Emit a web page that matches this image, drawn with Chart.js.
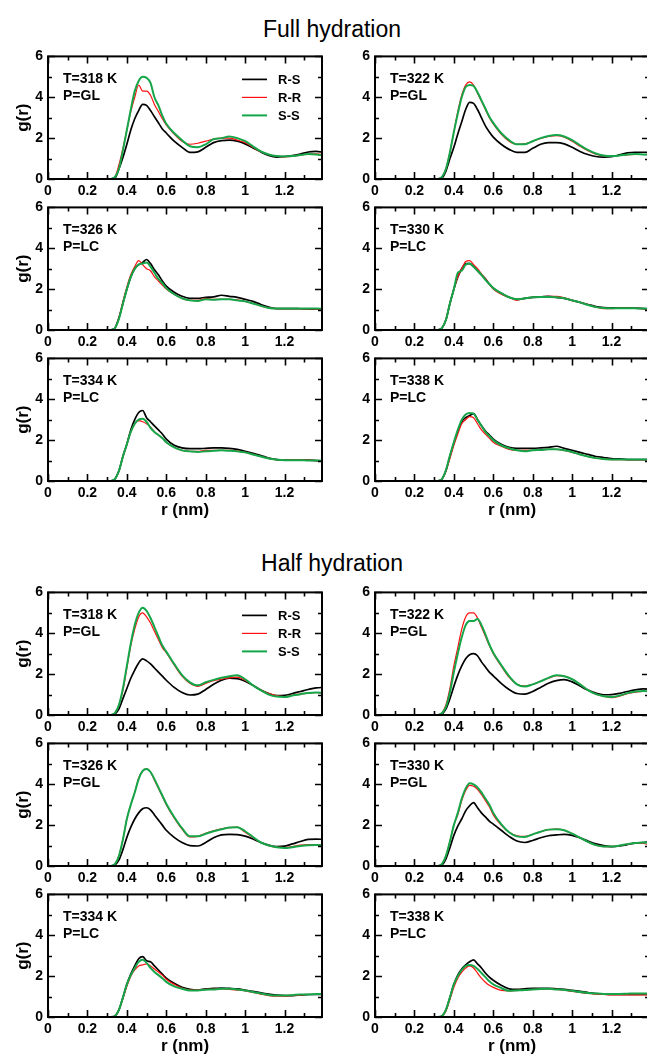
<!DOCTYPE html>
<html>
<head>
<meta charset="utf-8">
<script src="https://cdn.jsdelivr.net/npm/chart.js@4.4.1/dist/chart.umd.min.js"></script>
<style>
	html, body { margin: 0; padding: 0; background: #fff; }
	body { position: relative; width: 647px; height: 1054px; overflow: hidden; font-family: "Liberation Sans", Arial, sans-serif; }
	canvas { position: absolute; }
	.group-title { position: absolute; left: 0; width: 664px; text-align: center; font-size: 23px; color: #000; }
</style>
</head>
<body>
<div class="group-title" style="top:16px">Full hydration</div>
<div class="group-title" style="top:550px">Half hydration</div>
<script>
// r (nm) grid shared by every curve
const rValues = [0.32,0.34,0.36,0.38,0.40,0.42,0.44,0.46,0.48,0.50,0.52,0.54,0.56,0.58,0.60,0.64,0.68,0.72,0.76,0.80,0.84,0.88,0.92,0.96,1.00,1.04,1.08,1.12,1.16,1.20,1.24,1.28,1.32,1.36,1.40];

const seriesNames = ['R-S', 'R-R', 'S-S'];
const temps = ['318', '322', '326', '330', '334', '338'];
const fullPhases = ['GL', 'GL', 'LC', 'LC', 'LC', 'LC'];
const halfPhases = ['GL', 'GL', 'GL', 'GL', 'LC', 'LC'];

const xTickValues = [0, 0.2, 0.4, 0.6, 0.8, 1.0, 1.2];
const xTickLabels = ['0', '0.2', '0.4', '0.6', '0.8', '1', '1.2'];
const xMinorValues = [0.1, 0.3, 0.5, 0.7, 0.9, 1.1, 1.3];
const yTickValues = [0, 2, 4, 6];
const yTickLabels = ['0', '2', '4', '6'];
const yMinorValues = [1, 3, 5];

// Full hydration g(r)
const full318RS = [0,0.05,0.5,1.05,1.7,2.4,2.95,3.35,3.65,3.6,3.35,3.05,2.75,2.45,2.25,1.85,1.55,1.3,1.33,1.55,1.78,1.88,1.9,1.85,1.72,1.52,1.32,1.15,1.07,1.1,1.15,1.22,1.32,1.35,1.3];
const full318RR = [0,0.1,0.7,1.5,2.4,3.3,4.0,4.6,4.3,4.3,4.1,3.65,3.3,2.95,2.65,2.2,1.85,1.7,1.75,1.85,1.95,2.0,2.0,1.9,1.78,1.55,1.33,1.2,1.12,1.08,1.1,1.17,1.22,1.23,1.2];
const full318SS = [0,0.1,0.5,1.4,2.4,3.4,4.3,4.8,5.0,4.95,4.7,4.0,3.6,3.1,2.7,2.25,1.9,1.6,1.55,1.7,1.95,2.0,2.08,2.0,1.85,1.6,1.35,1.2,1.12,1.1,1.12,1.18,1.22,1.2,1.15];

const full322RS = [0,0.05,0.4,1.0,1.55,2.2,2.8,3.4,3.75,3.7,3.4,3.0,2.6,2.3,2.05,1.7,1.45,1.3,1.3,1.5,1.7,1.78,1.78,1.72,1.55,1.35,1.2,1.1,1.07,1.09,1.18,1.28,1.31,1.31,1.3];
const full322RR = [0,0.1,0.5,1.3,2.3,3.3,4.1,4.6,4.75,4.6,4.2,3.8,3.4,3.0,2.7,2.2,1.85,1.7,1.72,1.85,1.98,2.08,2.12,2.05,1.85,1.6,1.38,1.22,1.14,1.12,1.15,1.18,1.2,1.2,1.2];
const full322SS = [0,0.1,0.5,1.3,2.3,3.2,4.0,4.5,4.6,4.55,4.25,3.85,3.45,3.05,2.75,2.25,1.9,1.7,1.7,1.85,2.0,2.1,2.15,2.08,1.9,1.65,1.42,1.25,1.15,1.12,1.15,1.2,1.22,1.2,1.18];

const full326RS = [0,0.1,0.6,1.3,2.0,2.6,3.0,3.2,3.3,3.45,3.25,2.95,2.7,2.4,2.15,1.85,1.65,1.55,1.55,1.6,1.62,1.7,1.65,1.6,1.5,1.4,1.25,1.12,1.05,1.05,1.05,1.04,1.03,1.02,1.02];
const full326RR = [0,0.1,0.6,1.4,2.1,2.7,3.1,3.4,3.2,3.0,2.9,2.6,2.4,2.2,2.0,1.75,1.55,1.45,1.45,1.55,1.5,1.5,1.5,1.48,1.4,1.3,1.18,1.08,1.05,1.05,1.05,1.04,1.03,1.02,1.0];
const full326SS = [0,0.1,0.55,1.3,2.0,2.6,3.0,3.2,3.25,3.3,3.1,2.8,2.5,2.3,2.05,1.75,1.55,1.45,1.42,1.5,1.48,1.5,1.5,1.45,1.4,1.3,1.18,1.08,1.05,1.05,1.05,1.05,1.05,1.05,1.03];

const full330RS = [0,0.1,0.5,1.3,2.0,2.6,3.0,3.25,3.25,3.1,2.9,2.7,2.5,2.25,2.05,1.8,1.6,1.5,1.55,1.6,1.62,1.65,1.6,1.55,1.45,1.35,1.25,1.15,1.1,1.08,1.08,1.08,1.07,1.05,1.03];
const full330RR = [0,0.1,0.5,1.3,2.0,2.6,3.0,3.35,3.4,3.2,3.0,2.75,2.5,2.25,2.0,1.75,1.6,1.45,1.55,1.6,1.62,1.65,1.65,1.58,1.45,1.35,1.25,1.12,1.05,1.05,1.07,1.07,1.06,1.05,1.02];
const full330SS = [0,0.1,0.5,1.3,2.0,2.8,2.9,3.2,3.25,3.1,2.9,2.7,2.45,2.25,2.05,1.8,1.6,1.5,1.55,1.6,1.62,1.62,1.6,1.55,1.45,1.35,1.22,1.12,1.08,1.07,1.07,1.07,1.06,1.05,1.03];

const full334RS = [0,0.1,0.5,1.2,1.8,2.5,3.0,3.35,3.45,3.1,2.9,2.7,2.5,2.3,2.05,1.75,1.62,1.58,1.58,1.6,1.62,1.62,1.6,1.55,1.45,1.35,1.25,1.12,1.05,1.02,1.02,1.02,1.02,1.0,0.98];
const full334RR = [0,0.1,0.5,1.2,1.8,2.4,2.8,2.95,2.9,2.8,2.65,2.4,2.25,2.1,1.9,1.65,1.5,1.45,1.45,1.5,1.5,1.5,1.5,1.48,1.4,1.3,1.2,1.1,1.05,1.02,1.02,1.02,1.02,1.0,0.98];
const full334SS = [0,0.1,0.5,1.2,1.8,2.4,2.8,3.0,3.05,2.9,2.6,2.4,2.25,2.1,1.9,1.65,1.5,1.45,1.42,1.45,1.48,1.5,1.48,1.45,1.4,1.3,1.2,1.1,1.05,1.02,1.02,1.02,1.0,1.0,0.98];

const full338RS = [0,0.1,0.5,1.2,1.85,2.4,2.9,3.1,3.2,3.3,3.0,2.7,2.45,2.25,2.05,1.8,1.65,1.6,1.6,1.6,1.62,1.65,1.7,1.6,1.5,1.4,1.3,1.2,1.15,1.1,1.08,1.05,1.05,1.05,1.05];
const full338RR = [0,0.1,0.5,1.1,1.75,2.3,2.8,3.0,3.15,3.1,2.8,2.5,2.3,2.1,1.9,1.7,1.55,1.5,1.5,1.5,1.52,1.55,1.55,1.5,1.4,1.3,1.2,1.12,1.08,1.05,1.05,1.05,1.05,1.05,1.05];
const full338SS = [0,0.1,0.55,1.25,1.9,2.5,3.0,3.25,3.33,3.3,3.0,2.7,2.4,2.2,2.0,1.75,1.6,1.5,1.45,1.5,1.52,1.55,1.55,1.5,1.42,1.3,1.2,1.12,1.08,1.05,1.05,1.05,1.05,1.05,1.05];

// Half hydration g(r)
const half318RS = [0,0.05,0.3,0.8,1.3,1.8,2.2,2.55,2.75,2.65,2.5,2.3,2.1,1.9,1.7,1.35,1.1,0.98,1.02,1.25,1.5,1.7,1.8,1.78,1.65,1.45,1.22,1.05,0.95,0.96,1.05,1.15,1.25,1.33,1.35];
const half318RR = [0,0.1,0.5,1.2,2.3,3.4,4.2,4.8,5.0,4.8,4.5,4.1,3.7,3.3,3.05,2.45,1.9,1.55,1.4,1.55,1.68,1.75,1.82,1.85,1.7,1.45,1.22,1.05,0.95,0.9,0.98,1.03,1.07,1.1,1.05];
const half318SS = [0,0.1,0.5,1.3,2.4,3.5,4.4,5.0,5.25,5.1,4.75,4.3,3.85,3.4,3.1,2.5,1.95,1.6,1.45,1.6,1.72,1.82,1.9,1.95,1.75,1.45,1.2,1.0,0.9,0.88,0.95,1.02,1.08,1.1,1.08];

const half322RS = [0,0.05,0.3,0.8,1.4,1.95,2.4,2.75,2.95,3.0,2.9,2.6,2.35,2.1,1.92,1.55,1.25,1.05,1.02,1.15,1.35,1.55,1.68,1.73,1.62,1.42,1.22,1.07,0.99,1.0,1.06,1.15,1.23,1.28,1.25];
const half322RR = [0,0.1,0.5,1.3,2.4,3.3,4.2,4.8,5.0,5.0,4.75,4.3,3.85,3.4,3.0,2.4,1.85,1.5,1.42,1.5,1.65,1.8,1.92,1.9,1.75,1.5,1.22,1.02,0.92,0.85,0.92,1.05,1.12,1.15,1.15];
const half322SS = [0,0.1,0.4,1.1,2.1,3.0,3.8,4.4,4.6,4.6,4.7,4.4,3.95,3.45,3.05,2.45,1.9,1.5,1.4,1.5,1.65,1.82,1.95,1.9,1.75,1.5,1.22,1.02,0.92,0.88,0.95,1.07,1.15,1.18,1.15];

const half326RS = [0,0.05,0.3,0.8,1.4,1.9,2.3,2.6,2.8,2.85,2.75,2.5,2.25,2.0,1.75,1.4,1.15,1.0,0.98,1.15,1.38,1.52,1.55,1.54,1.46,1.32,1.15,1.02,0.95,0.97,1.08,1.2,1.3,1.32,1.3];
const half326RR = [0,0.1,0.5,1.3,2.3,3.0,3.6,4.3,4.65,4.75,4.6,4.2,3.8,3.4,3.0,2.35,1.8,1.42,1.45,1.6,1.72,1.82,1.88,1.9,1.65,1.4,1.15,1.0,0.92,0.9,0.95,1.02,1.05,1.05,1.0];
const half326SS = [0,0.1,0.5,1.3,2.3,3.0,3.6,4.25,4.65,4.75,4.6,4.25,3.85,3.45,3.05,2.4,1.85,1.45,1.45,1.58,1.7,1.8,1.88,1.9,1.7,1.42,1.15,1.0,0.92,0.88,0.92,0.98,1.02,1.03,1.0];

const half330RS = [0,0.05,0.35,0.9,1.5,1.95,2.3,2.7,2.95,3.1,2.85,2.6,2.4,2.2,2.05,1.75,1.45,1.22,1.15,1.25,1.38,1.48,1.52,1.55,1.5,1.38,1.22,1.08,1.0,0.95,0.98,1.05,1.12,1.15,1.2];
const half330RR = [0,0.1,0.5,1.2,2.0,2.5,3.2,3.7,3.95,3.9,3.75,3.5,3.2,2.9,2.5,2.0,1.65,1.48,1.45,1.55,1.68,1.78,1.8,1.75,1.58,1.38,1.18,1.02,0.95,0.95,1.0,1.07,1.12,1.1,1.02];
const half330SS = [0,0.1,0.5,1.2,2.0,2.6,3.3,3.8,4.05,4.0,3.85,3.6,3.3,3.0,2.6,2.05,1.65,1.45,1.42,1.55,1.68,1.78,1.8,1.75,1.58,1.38,1.18,1.02,0.95,0.95,1.0,1.07,1.12,1.15,1.12];

const half334RS = [0,0.05,0.35,0.95,1.6,2.1,2.5,2.85,2.95,2.75,2.7,2.5,2.3,2.1,1.9,1.65,1.45,1.35,1.32,1.38,1.4,1.42,1.4,1.38,1.32,1.25,1.18,1.12,1.07,1.05,1.05,1.07,1.1,1.1,1.1];
const half334RR = [0,0.05,0.35,0.9,1.5,2.0,2.3,2.5,2.55,2.6,2.5,2.35,2.2,2.05,1.85,1.6,1.42,1.33,1.32,1.35,1.37,1.38,1.35,1.32,1.28,1.2,1.12,1.05,1.02,1.02,1.05,1.07,1.1,1.1,1.12];
const half334SS = [0,0.05,0.35,0.95,1.6,2.05,2.4,2.7,2.8,2.65,2.4,2.2,2.05,1.9,1.72,1.5,1.38,1.3,1.3,1.33,1.35,1.38,1.38,1.35,1.3,1.22,1.15,1.08,1.05,1.05,1.07,1.1,1.1,1.12,1.12];

const half338RS = [0,0.05,0.35,0.95,1.6,2.05,2.35,2.55,2.7,2.8,2.6,2.4,2.15,1.95,1.8,1.55,1.38,1.35,1.38,1.4,1.4,1.4,1.38,1.35,1.3,1.25,1.2,1.15,1.12,1.1,1.1,1.1,1.1,1.1,1.1];
const half338RR = [0,0.05,0.3,0.85,1.45,1.9,2.2,2.4,2.5,2.4,2.15,1.9,1.7,1.55,1.45,1.3,1.28,1.3,1.32,1.35,1.37,1.38,1.35,1.32,1.25,1.2,1.15,1.12,1.1,1.08,1.08,1.08,1.08,1.08,1.08];
const half338SS = [0,0.05,0.35,0.95,1.6,2.0,2.3,2.5,2.55,2.5,2.35,2.15,1.95,1.75,1.6,1.42,1.28,1.3,1.32,1.35,1.37,1.38,1.35,1.32,1.28,1.22,1.18,1.15,1.13,1.13,1.13,1.14,1.15,1.15,1.15];

const fullSeries = [
	[full318RS, full318RR, full318SS],
	[full322RS, full322RR, full322SS],
	[full326RS, full326RR, full326SS],
	[full330RS, full330RR, full330SS],
	[full334RS, full334RR, full334SS],
	[full338RS, full338RR, full338SS],
];
const halfSeries = [
	[half318RS, half318RR, half318SS],
	[half322RS, half322RR, half322SS],
	[half326RS, half326RR, half326SS],
	[half330RS, half330RR, half330SS],
	[half334RS, half334RR, half334SS],
	[half338RS, half338RR, half338SS],
];

const FONT = '"Liberation Sans", Arial, Helvetica, sans-serif';
const lineStyles = [
	{ color: '#000000', width: 1.7, order: 2 },
	{ color: '#ff1010', width: 1.2, order: 1 },
	{ color: '#16a64a', width: 2.0, order: 0 },
];

// frame, inward ticks, T/P annotation and the small legend
const panelDecor = {
	id: 'panelDecor',
	afterDatasetsDraw(chart, args, opts) {
		const { ctx, chartArea: a, scales: { x, y } } = chart;
		ctx.save();
		ctx.strokeStyle = '#000';
		ctx.lineWidth = 1.6;
		ctx.beginPath();
		const xt = (vals, len) => vals.forEach((v) => {
			const px = Math.round(x.getPixelForValue(v)) + 0.5;
			ctx.moveTo(px, a.bottom); ctx.lineTo(px, a.bottom - len);
			ctx.moveTo(px, a.top); ctx.lineTo(px, a.top + len);
		});
		const yt = (vals, len) => vals.forEach((v) => {
			const py = Math.round(y.getPixelForValue(v)) + 0.5;
			ctx.moveTo(a.left, py); ctx.lineTo(a.left + len, py);
			ctx.moveTo(a.right, py); ctx.lineTo(a.right - len, py);
		});
		xt(xTickValues, 7);
		xt(xMinorValues, 4);
		yt(yTickValues, 7);
		yt(yMinorValues, 4);
		ctx.stroke();
		ctx.lineWidth = 2;
		ctx.strokeRect(a.left, a.top, a.right - a.left, a.bottom - a.top);

		ctx.fillStyle = '#000';
		ctx.font = 'bold 14px ' + FONT;
		ctx.textBaseline = 'alphabetic';
		ctx.fillText('T=' + opts.temp + ' K', a.left + 15, a.top + 27);
		ctx.fillText('P=' + opts.phase, a.left + 15, a.top + 44);

		if (opts.legend) {
			ctx.font = 'bold 13px ' + FONT;
			chart.data.datasets.forEach((ds, i) => {
				const ly = a.top + 23 + i * 18;
				ctx.strokeStyle = ds.borderColor;
				ctx.lineWidth = ds.borderWidth;
				ctx.beginPath();
				ctx.moveTo(a.left + 194, ly);
				ctx.lineTo(a.left + 219, ly);
				ctx.stroke();
				ctx.fillText(ds.label, a.left + 230, ly + 5);
			});
		}
		ctx.restore();
	}
};

const drawPanel = (series, temp, phase, left, top, opts) => {
	const xAxisHeight = opts.xTitle ? 43 : 22;
	const canvas = document.createElement('canvas');
	canvas.width = 330;
	canvas.height = 10 + 126 + xAxisHeight;
	canvas.style.left = left + 'px';
	canvas.style.top = (top - 10) + 'px';
	document.body.appendChild(canvas);

	const datasets = series.map((values, i) => ({
		label: seriesNames[i],
		data: values.map((v, j) => ({ x: rValues[j], y: v })),
		borderColor: lineStyles[i].color,
		borderWidth: lineStyles[i].width,
		order: lineStyles[i].order,
		pointRadius: 0,
		cubicInterpolationMode: 'monotone',
		fill: false,
	}));

	const tickFont = { family: FONT, weight: 'bold', size: 14 };
	new Chart(canvas, {
		type: 'line',
		data: { datasets: datasets },
		plugins: [panelDecor],
		options: {
			responsive: false,
			animation: false,
			devicePixelRatio: 1,
			layout: { padding: { top: 10, right: 8, left: 0, bottom: 0 } },
			plugins: {
				legend: { display: false },
				tooltip: { enabled: false },
				panelDecor: { temp: temp, phase: phase, legend: opts.legend },
			},
			scales: {
				x: {
					type: 'linear',
					min: 0,
					max: 1.39,
					afterBuildTicks: (scale) => { scale.ticks = xTickValues.map((v) => ({ value: v })); },
					afterFit: (scale) => { scale.height = xAxisHeight; },
					grid: { display: false, drawTicks: false },
					border: { display: false },
					ticks: {
						color: '#000',
						font: tickFont,
						padding: 4,
						maxRotation: 0,
						autoSkip: false,
						callback: (v) => xTickLabels[xTickValues.indexOf(v)],
					},
					title: {
						display: opts.xTitle,
						text: 'r (nm)',
						color: '#000',
						font: { family: FONT, weight: 'bold', size: 17 },
						padding: { top: 0, bottom: 3 },
					},
				},
				y: {
					min: 0,
					max: 6,
					afterBuildTicks: (scale) => { scale.ticks = yTickValues.map((v) => ({ value: v })); },
					afterFit: (scale) => { scale.width = 48; },
					grid: { display: false, drawTicks: false },
					border: { display: false },
					ticks: {
						color: '#000',
						font: tickFont,
						padding: 5,
						callback: (v) => yTickLabels[yTickValues.indexOf(v)],
					},
					title: {
						display: opts.yTitle,
						text: 'g(r)',
						color: '#000',
						font: { family: FONT, weight: 'bold', size: 17 },
						padding: { top: 13, bottom: 0 },
					},
				},
			},
		},
	});
};

const colLeft = [0, 327];
const fullRowTop = [53, 204, 355];
const halfRowTop = [589, 740, 891];

[[fullSeries, fullPhases, fullRowTop], [halfSeries, halfPhases, halfRowTop]].forEach(([group, phases, rowTop]) => {
	group.forEach((series, i) => {
		const row = Math.floor(i / 2);
		const col = i % 2;
		drawPanel(series, temps[i], phases[i], colLeft[col], rowTop[row], {
			legend: i === 0,
			yTitle: col === 0,
			xTitle: row === 2,
		});
	});
});
</script>
</body>
</html>
